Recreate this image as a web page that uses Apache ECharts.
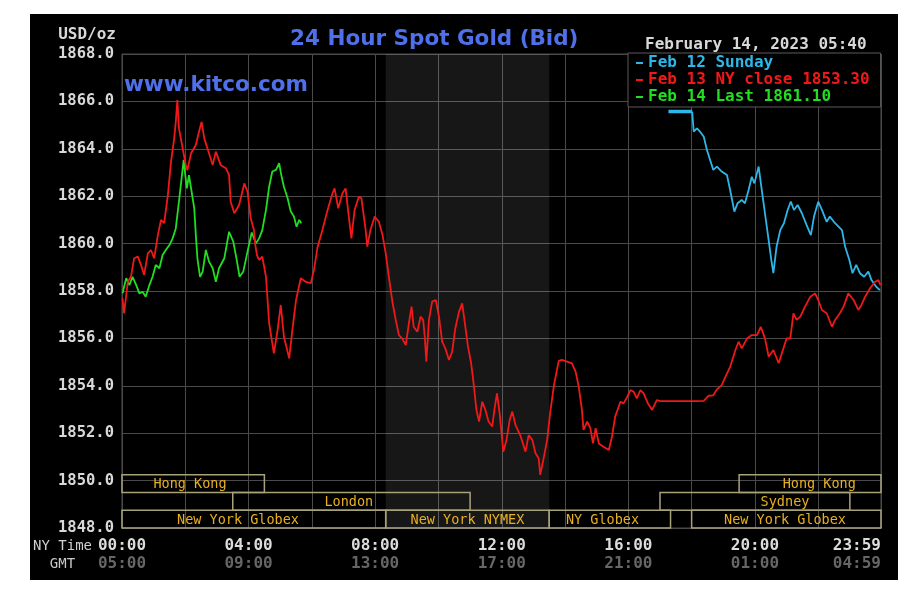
<!DOCTYPE html>
<html>
<head>
<meta charset="utf-8">
<script src="https://cdn.jsdelivr.net/npm/echarts@6/dist/echarts.min.js"></script>
<style>
html,body{margin:0;padding:0;background:#fff;}
#chart{position:absolute;left:30px;top:14px;width:868px;height:566px;background:#000;}
</style>
</head>
<body>
<div id="chart"></div>
<script>
// ---- Data (time in minutes after 00:00 NY time) ----
const redTime = [1,4,11,17,23,30,36,42,49,55,61,68,74,80,87,93,99,102,105,108,115,121,124,131,140,146,151,156,165,172,178,187,197,203,206,213,222,232,238,244,250,253,256,260,266,273,279,285,288,295,301,307,317,323,330,339,348,358,364,371,380,389,399,403,410,418,424,430,435,441,449,454,462,465,471,479,487,494,500,506,513,519,525,531,538,544,549,553,560,566,571,574,577,582,588,595,601,607,613,620,626,632,639,645,651,656,662,667,672,677,683,689,695,702,706,711,716,723,729,735,740,746,755,765,771,778,784,790,793,800,806,812,819,828,834,844,853,860,866,872,875,882,888,893,898,904,913,923,929,935,945,951,958,964,970,976,983,989,997,1005,1014,1021,1084,1090,1103,1112,1121,1128,1137,1144,1153,1163,1169,1175,1185,1194,1204,1211,1219,1226,1235,1245,1253,1260,1267,1273,1279,1286,1295,1305,1314,1320,1327,1336,1346,1352,1361,1368,1377,1387,1396,1402,1409,1418,1428,1434,1438];
const redPrice = [1857.69,1857.06,1858.39,1858.6,1859.38,1859.45,1859.1,1858.68,1859.59,1859.73,1859.38,1860.36,1861.0,1860.86,1862.05,1863.46,1864.44,1865.14,1866.06,1864.86,1864.02,1863.32,1863.1,1863.81,1864.16,1864.72,1865.14,1864.44,1863.81,1863.32,1863.88,1863.32,1863.18,1862.89,1861.77,1861.28,1861.63,1862.54,1862.19,1861.07,1860.6,1859.9,1859.5,1859.31,1859.45,1858.6,1856.64,1855.79,1855.37,1856.35,1857.41,1856.07,1855.16,1856.35,1857.62,1858.54,1858.39,1858.33,1858.89,1859.87,1860.57,1861.35,1862.12,1862.33,1861.49,1862.12,1862.33,1861.14,1860.22,1861.42,1861.98,1861.91,1860.57,1859.87,1860.57,1861.14,1860.92,1860.36,1859.59,1858.6,1857.5,1856.78,1856.14,1856.0,1855.72,1856.64,1857.34,1856.49,1856.28,1856.92,1856.78,1856.07,1855.02,1856.78,1857.55,1857.62,1856.92,1855.86,1855.58,1855.09,1855.44,1856.43,1857.13,1857.48,1856.49,1855.65,1854.95,1854.03,1852.98,1852.49,1853.33,1852.98,1852.49,1852.28,1852.98,1853.68,1852.84,1851.22,1851.71,1852.56,1852.91,1852.35,1851.92,1851.22,1851.92,1851.71,1851.15,1850.94,1850.24,1851.01,1851.71,1852.9,1854.03,1855.05,1855.09,1855.02,1854.95,1854.6,1853.96,1852.98,1852.14,1852.49,1852.21,1851.57,1852.21,1851.57,1851.43,1851.29,1851.85,1852.7,1853.33,1853.26,1853.54,1853.82,1853.75,1853.47,1853.82,1853.68,1853.26,1852.98,1853.4,1853.35,1853.35,1853.35,1853.36,1853.58,1853.6,1853.85,1854.03,1854.38,1854.8,1855.51,1855.86,1855.58,1856.0,1856.14,1856.14,1856.49,1856.0,1855.23,1855.51,1854.95,1855.51,1856.0,1856.0,1857.06,1856.78,1856.92,1857.34,1857.76,1857.9,1857.62,1857.2,1857.06,1856.49,1856.78,1857.06,1857.34,1857.9,1857.62,1857.2,1857.41,1857.76,1858.11,1858.39,1858.46,1858.25];

const greenTime = [1,8,14,20,27,33,39,45,52,58,64,71,77,83,90,96,102,105,108,113,117,120,123,127,133,137,140,143,148,153,159,165,172,178,184,194,203,211,217,223,230,238,246,254,260,266,273,279,285,292,298,302,307,314,320,326,331,336,340];
const greenPrice = [1857.9,1858.54,1858.25,1858.6,1858.25,1857.9,1857.97,1857.76,1858.25,1858.6,1859.1,1858.96,1859.52,1859.73,1859.94,1860.22,1860.64,1861.21,1861.77,1862.75,1863.53,1862.89,1862.33,1862.89,1862.05,1861.49,1860.36,1859.38,1858.6,1858.82,1859.73,1859.24,1858.96,1858.39,1858.96,1859.38,1860.5,1860.08,1859.38,1858.6,1858.82,1859.66,1860.47,1860.01,1860.22,1860.57,1861.42,1862.4,1863.04,1863.11,1863.39,1862.89,1862.4,1861.91,1861.35,1861.14,1860.71,1861.0,1860.86];

const cyanOpenTime = [1036,1081];
const cyanOpenPrice = [1865.57,1865.57];
const cyanTime = [1081,1084,1090,1096,1103,1109,1115,1121,1128,1137,1147,1153,1161,1167,1175,1181,1188,1194,1199,1207,1213,1219,1226,1231,1235,1241,1248,1255,1262,1268,1274,1281,1289,1298,1306,1312,1320,1327,1336,1342,1352,1365,1371,1379,1385,1392,1399,1407,1415,1421,1430,1437];
const cyanPrice = [1865.57,1864.72,1864.86,1864.72,1864.51,1863.95,1863.53,1863.11,1863.25,1863.04,1862.89,1862.26,1861.35,1861.7,1861.84,1861.7,1862.26,1862.82,1862.54,1863.25,1862.26,1861.28,1860.15,1859.31,1858.75,1859.87,1860.57,1860.86,1861.42,1861.77,1861.42,1861.63,1861.28,1860.78,1860.36,1861.14,1861.77,1861.42,1860.92,1861.14,1860.86,1860.57,1859.87,1859.31,1858.75,1859.1,1858.75,1858.6,1858.82,1858.46,1858.18,1858.04];

const seriesNames = ['Feb 12 Sunday', 'Feb 13 NY close 1853.30', 'Feb 14 Last 1861.10'];

const sessionNames = ['Hong Kong','London','New York Globex','New York NYMEX','NY Globex','Sydney','Hong Kong','New York Globex'];
const sessionStart = [0,210,0,500,810,1020,1170,1080];
const sessionEnd   = [270,660,500,810,1040,1380,1439,1439];
const sessionRow   = [0,1,2,2,2,1,0,2];
const sessionLabelAt = [129,430,220,655,911,1257,1322,1257];

const tickMinutes = [0,240,480,720,960,1200,1439];
const nyTickLabels = ['00:00','04:00','08:00','12:00','16:00','20:00','23:59'];
const gmtTickLabels = ['05:00','09:00','13:00','17:00','21:00','01:00','04:59'];

const titleText = '24 Hour Spot Gold (Bid)';
const siteText = 'www.kitco.com';
const dateText = 'February 14, 2023 05:40';

// ---- Chart ----
const zip = (t, v) => t.map((x, i) => [x, v[i]]);
const MONO = '"DejaVu Sans Mono", monospace';
const GRID = '#4a4a4a';
const C_CYAN = '#2db6e8', C_RED = '#f01818', C_GREEN = '#22dd22';

const chart = echarts.init(document.getElementById('chart'), null, {renderer: 'canvas'});

const option = {
  backgroundColor: '#000',
  animation: false,
  title: [
    {text: titleText, left: 260, top: 14, padding: 0,
     textStyle: {color: '#4f70ea', fontFamily: '"DejaVu Sans", sans-serif', fontWeight: 'bold', fontSize: 21.5}},
    {text: siteText, left: 94, top: 60, padding: 0,
     textStyle: {color: '#4f70ea', fontFamily: '"DejaVu Sans", sans-serif', fontWeight: 'bold', fontSize: 21.5}},
    {text: dateText, left: 615, top: 23, padding: 0,
     textStyle: {color: '#d8d8d8', fontFamily: MONO, fontWeight: 'bold', fontSize: 16}}
  ],
  legend: {
    orient: 'vertical', left: 598, top: 39,
    padding: [2, 11, 2, 8], itemGap: 1, itemWidth: 7, itemHeight: 2, icon: 'rect',
    backgroundColor: '#000', borderColor: '#5a5a5a', borderWidth: 1,
    selectedMode: false,
    textStyle: {fontFamily: MONO, fontWeight: 'bold', fontSize: 16, lineHeight: 16},
    data: [
      {name: seriesNames[0], textStyle: {color: C_CYAN}},
      {name: seriesNames[1], textStyle: {color: C_RED}},
      {name: seriesNames[2], textStyle: {color: C_GREEN}}
    ]
  },
  grid: {left: 91, top: 40, width: 760, height: 474, show: true, borderColor: GRID, borderWidth: 1, containLabel: false},
  xAxis: {
    type: 'value', min: 0, max: 1439, interval: 120,
    axisLine: {show: false}, axisTick: {show: false},
    splitLine: {show: true, lineStyle: {color: GRID, width: 1}},
    name: '{a|NY Time}\n{b|GMT}', nameLocation: 'start', nameGap: 28,
    nameTextStyle: {
      align: 'right', verticalAlign: 'middle', padding: [54, 0, 0, 0],
      rich: {
        a: {fontFamily: MONO, fontSize: 14, color: '#d0d0d0', lineHeight: 18},
        b: {fontFamily: MONO, fontSize: 14, color: '#c8c8c8', lineHeight: 18, align: 'center'}
      }
    },
    axisLabel: {
      margin: 9, alignMaxLabel: 'right',
      formatter: function (v) {
        const i = tickMinutes.indexOf(Math.round(v));
        if (i < 0) return '';
        return '{a|' + nyTickLabels[i] + '}\n{b|' + gmtTickLabels[i] + '}';
      },
      rich: {
        a: {fontFamily: MONO, fontWeight: 'bold', fontSize: 16, color: '#dcdcdc', lineHeight: 18},
        b: {fontFamily: MONO, fontWeight: 'bold', fontSize: 16, color: '#666666', lineHeight: 18}
      }
    }
  },
  yAxis: {
    type: 'value', min: 1848, max: 1868, interval: 2,
    axisLine: {show: false}, axisTick: {show: false},
    splitLine: {show: true, lineStyle: {color: GRID, width: 1}},
    name: 'USD/oz', nameLocation: 'end', nameGap: 19,
    nameTextStyle: {color: '#d8d8d8', fontFamily: MONO, fontWeight: 'bold', fontSize: 16,
                    align: 'right', verticalAlign: 'middle', padding: [0, 6, 0, 0]},
    axisLabel: {
      margin: 8, color: '#d8d8d8', fontFamily: MONO, fontWeight: 'bold', fontSize: 15.5,
      padding: [4, 0, 0, 0],
      formatter: v => v.toFixed(1)
    }
  },
  series: [
    {
      name: 'sessions', type: 'custom', coordinateSystem: 'cartesian2d', silent: true, z: 1,
      encode: {x: [0, 1], y: 2},
      data: sessionStart.map((s, i) => [s, sessionEnd[i], sessionRow[i], sessionLabelAt[i]]),
      renderItem: function (params, api) {
        const s = api.value(0), e = api.value(1), row = api.value(2), lab = api.value(3);
        const yTop = 1848 + (3 - row) * 0.75, yBot = 1848 + (2 - row) * 0.75;
        const p1 = api.coord([s, yTop]), p2 = api.coord([e, yBot]);
        const pl = api.coord([lab, (yTop + yBot) / 2]);
        return {
          type: 'group',
          children: [
            {type: 'rect', shape: {x: p1[0], y: p1[1], width: p2[0] - p1[0], height: p2[1] - p1[1]},
             style: {fill: 'none', stroke: '#a8a27a', lineWidth: 1.5}},
            {type: 'text', style: {text: sessionNames[params.dataIndex], x: pl[0], y: pl[1] + 1,
             align: 'center', verticalAlign: 'middle', fill: '#e8b020',
             font: '13.5px "DejaVu Sans Mono", monospace'}}
          ]
        };
      }
    },
    {
      name: seriesNames[0], type: 'line', data: zip(cyanTime, cyanPrice), showSymbol: false, symbol: 'none',
      lineStyle: {color: C_CYAN, width: 1.8}, itemStyle: {color: C_CYAN}, z: 3
    },
    {
      name: 'sundayOpen', type: 'line', data: zip(cyanOpenTime, cyanOpenPrice), showSymbol: false, symbol: 'none',
      lineStyle: {color: C_CYAN, width: 3.5}, itemStyle: {color: C_CYAN}, z: 3
    },
    {
      name: seriesNames[2], type: 'line', data: zip(greenTime, greenPrice), showSymbol: false, symbol: 'none',
      lineStyle: {color: C_GREEN, width: 1.8}, itemStyle: {color: C_GREEN}, z: 3
    },
    {
      name: seriesNames[1], type: 'line', data: zip(redTime, redPrice), showSymbol: false, symbol: 'none',
      lineStyle: {color: C_RED, width: 1.8}, itemStyle: {color: C_RED}, z: 4,
      markArea: {
        silent: true, itemStyle: {color: 'rgba(255,255,255,0.09)'},
        data: [[{xAxis: sessionStart[3]}, {xAxis: sessionEnd[3]}]]
      }
    }
  ]
};
chart.setOption(option);
</script>
</body>
</html>
